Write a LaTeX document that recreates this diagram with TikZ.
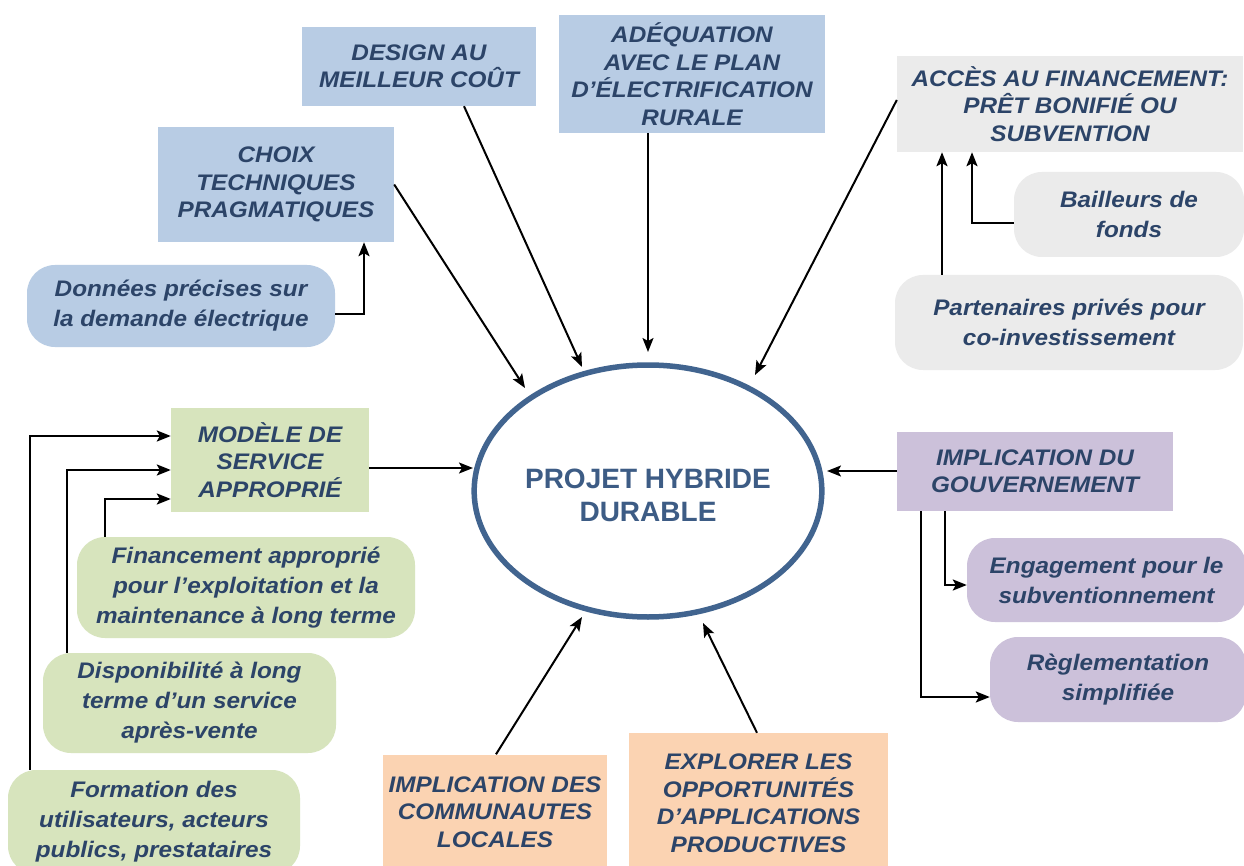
\documentclass[tikz,border=0pt]{standalone}
\usepackage{fontspec}
\setmainfont{Liberation Sans}
\newfontfamily\bxfont{Liberation Sans}[FakeStretch=1.08]
\usetikzlibrary{arrows.meta,shapes.geometric,calc}
\definecolor{cblue}{HTML}{B8CCE4}
\definecolor{cgray}{HTML}{EBEBEB}
\definecolor{cgreen}{HTML}{D7E4BD}
\definecolor{corange}{HTML}{FBD3B2}
\definecolor{cpurple}{HTML}{CCC1DA}
\definecolor{ctxt}{HTML}{2C4468}
\definecolor{cell}{HTML}{41648F}
\definecolor{celltxt}{HTML}{3D5C85}
\begin{document}
\begin{tikzpicture}[x=1pt,y=-1pt,
  rbox/.style={rectangle, inner sep=0pt, align=center, text=ctxt,
    font=\bxfont\bfseries\itshape\fontsize{22.5}{27.5}\selectfont},
  rnd/.style={rbox, rounded corners=28pt,
    font=\bxfont\bfseries\itshape\fontsize{22.5}{30}\selectfont},
  arr/.style={draw=black, line width=2pt, -{Stealth[length=14pt,width=11pt,inset=3pt]}},
  earr/.style={arr, line width=2.4pt}]
\useasboundingbox (0,0) rectangle (1244,866);
\fill[white] (0,0) rectangle (1244,866);

% top blue boxes
\node[rbox, fill=cblue, minimum width=234pt, minimum height=79pt] (design) at (419,66.5) {DESIGN AU\\MEILLEUR COÛT};
\node[rbox, fill=cblue, minimum width=266pt, minimum height=118pt] (adeq) at (692,74) {ADÉQUATION\\AVEC LE PLAN\\D’ÉLECTRIFICATION\\RURALE};
\node[rbox, fill=cblue, minimum width=236pt, minimum height=115pt] (choix) at (276,184.5) {CHOIX\\TECHNIQUES\\PRAGMATIQUES};
\node[rnd, fill=cblue, minimum width=308pt, minimum height=82pt] (donnees) at (181,306) {Données précises sur\\la demande électrique};

% financing (gray)
\node[rbox, fill=cgray, minimum width=346pt, minimum height=96pt] (acces) at (1070,104) {ACCÈS AU FINANCEMENT:\\PRÊT BONIFIÉ OU\\SUBVENTION};
\node[rnd, fill=cgray, minimum width=230pt, minimum height=85pt] (bailleurs) at (1129,214.5) {Bailleurs de\\fonds};
\node[rnd, fill=cgray, minimum width=348pt, minimum height=95pt] (partenaires) at (1069,322.5) {Partenaires privés pour\\co-investissement};

% center ellipse
\node[ellipse, draw=cell, line width=5.5pt, fill=white, minimum width=346pt, minimum height=252pt,
  inner sep=0pt, text=celltxt, font=\bfseries\fontsize{28}{33}\selectfont] (proj) at (648,491)
  {\raisebox{-14pt}[0pt][0pt]{\begin{tabular}{@{}c@{}}PROJET HYBRIDE\\DURABLE\end{tabular}}};

% green service boxes
\node[rbox, fill=cgreen, minimum width=198pt, minimum height=104pt] (modele) at (270,460) {MODÈLE DE\\SERVICE\\APPROPRIÉ};
\node[rnd, fill=cgreen, minimum width=338pt, minimum height=101pt] (financement) at (246,587.5) {Financement approprié\\pour l’exploitation et la\\maintenance à long terme};
\node[rnd, fill=cgreen, minimum width=293pt, minimum height=100pt] (dispo) at (189.5,703) {Disponibilité à long\\terme d’un service\\après-vente};
\node[rnd, fill=cgreen, minimum width=292pt, minimum height=104pt] (formation) at (154,822) {Formation des\\utilisateurs, acteurs\\publics, prestataires};

% orange bottom boxes
\node[rbox, fill=corange, minimum width=224pt, minimum height=115pt] (communautes) at (495,812) {IMPLICATION DES\\COMMUNAUTES\\LOCALES};
\node[rbox, fill=corange, minimum width=259pt, minimum height=140pt] (explorer) at (758.5,803) {EXPLORER LES\\OPPORTUNITÉS\\D’APPLICATIONS\\PRODUCTIVES};

% purple government boxes
\node[rbox, fill=cpurple, minimum width=276pt, minimum height=79pt] (gov) at (1035,471.5) {IMPLICATION DU\\GOUVERNEMENT};
\node[rnd, fill=cpurple, minimum width=279pt, minimum height=84pt] (engagement) at (1106.5,580) {Engagement pour le\\subventionnement};
\node[rnd, fill=cpurple, minimum width=256pt, minimum height=85pt] (reglement) at (1118,679.5) {Règlementation\\simplifiée};

% arrow tips near the ellipse
\coordinate (tChoix) at (525,388);
\coordinate (tDesign) at (582,367);
\coordinate (tAdeq) at (648,352);
\coordinate (tAcces) at (755,375);
\coordinate (tModele) at (473,468);
\coordinate (tGov) at (827,471);
\coordinate (tComm) at (582,617);
\coordinate (tExpl) at (703,623);

% arrows into the ellipse
\draw[arr] (choix.east) -- (tChoix);
\draw[arr] ($(design.south)+(45,0)$) -- (tDesign);
\draw[arr] (adeq.south -| tAdeq) -- (tAdeq);
\draw[arr] ($(acces.west)+(0,-4)$) -- (tAcces);
\draw[arr] (modele.east |- tModele) -- (tModele);
\draw[arr] (gov.west |- tGov) -- (tGov);
\draw[arr] ($(communautes.north)+(1,0)$) -- (tComm);
\draw[arr] ($(explorer.north)+(-1.5,0)$) -- (tExpl);

% elbow connectors
\draw[earr] (donnees.east |- 0,314) -| ($(choix.south)+(88,0)$);
\draw[earr] (bailleurs.west |- 0,223) -| ($(acces.south)+(-98,0)$);
\draw[earr] ($(partenaires.north)+(-127,0)$) -- ($(acces.south)+(-128,0)$);
\draw[earr] (financement.north -| 105,0) |- (modele.west |- 0,499);
\draw[earr] (dispo.north -| 67,0) |- (modele.west |- 0,470);
\draw[earr] (formation.north -| 30,0) |- (modele.west |- 0,436);
\draw[earr] (gov.south -| 945,0) |- (engagement.west |- 0,585);
\draw[earr] (gov.south -| 921,0) |- (reglement.west |- 0,697);
\end{tikzpicture}
\end{document}
